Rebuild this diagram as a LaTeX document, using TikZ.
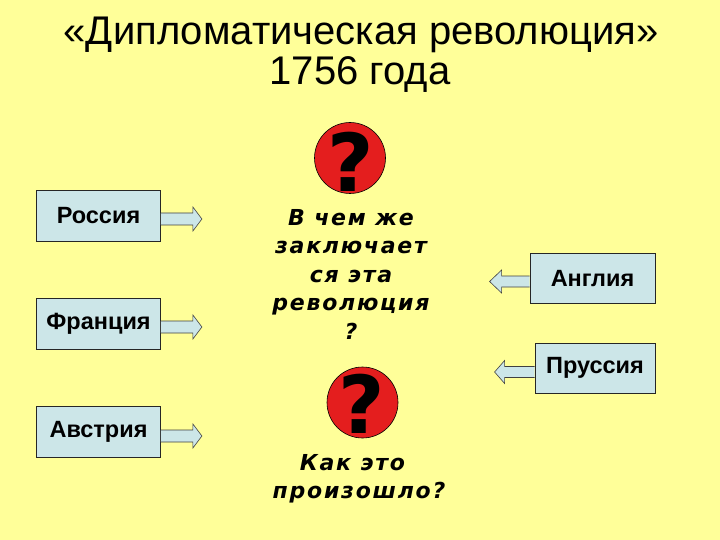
\documentclass[tikz,border=0pt]{standalone}
\usepackage{fontspec}
\setmainfont{Liberation Sans}
\newfontfamily\qfont[LetterSpace=8]{DejaVu Sans}
\newfontfamily\qmfont{DejaVu Sans}
\usetikzlibrary{calc}
\definecolor{bg}{RGB}{255,255,153}
\definecolor{boxfill}{RGB}{204,230,232}
\definecolor{qred}{RGB}{228,30,30}
\tikzset{
  x=1pt,y=-1pt,
  country/.style={draw=black!85,line width=0.8pt,fill=boxfill,inner sep=0pt,
    font=\fontsize{23.5}{26}\selectfont\bfseries},
  blockarrow/.style={draw=black!75,line width=0.6pt,fill=boxfill,line join=miter},
  qcircle/.style={circle,draw=black,line width=0.6pt,fill=qred,minimum size=71pt,inner sep=0pt},
  qmark/.style={font=\qmfont\bfseries\fontsize{80}{80}\selectfont,inner sep=0pt},
  qtext/.style={align=center,font=\qfont\bfseries\itshape\fontsize{22}{28.5}\selectfont,inner sep=0pt},
  titletext/.style={font=\fontsize{40}{42}\selectfont,inner sep=0pt,anchor=base}
}
\begin{document}
\begin{tikzpicture}
\useasboundingbox (0,0) rectangle (720,540);
\fill[bg] (0,0) rectangle (720,540);

% title
\node[titletext] (t1) at (361,45) {«Дипломатическая революция»};
\node[titletext] (t2) at (360,85) {1756 года};

% left boxes
\node[country,minimum width=124pt,minimum height=51pt] (ru) at (98.5,216) {Россия};
\node[country,minimum width=124pt,minimum height=51pt] (fr) at (98.5,323.5) {Франция};
\node[country,minimum width=124pt,minimum height=51pt] (au) at (98.5,432) {Австрия};
% right boxes
\node[country,minimum width=125pt,minimum height=50pt] (en) at (592.5,278.5) {Англия};
\node[country,minimum width=120pt,minimum height=50pt] (pr) at (595,368) {Пруссия};

% right-pointing arrows
\foreach \b/\dy in {ru/3,fr/3.5,au/4}{
  \coordinate (\b s) at ($(\b.east)+(0,\dy)$);
  \draw[blockarrow] ($(\b s)+(0,-6)$) -- ++(32,0) -- ++(0,-6) -- ++(9,12) -- ++(-9,12) -- ++(0,-6) -- ++(-32,0);
}
% left-pointing arrows
\coordinate (ens) at ($(en.west)+(0,3)$);
\draw[blockarrow] ($(ens)+(0,-5.5)$) -- ++(-28,0) -- ++(0,-6) -- ++(-12,11.5) -- ++(12,11.5) -- ++(0,-6) -- ++(28,0);
\coordinate (prs) at ($(pr.west)+(0,4)$);
\draw[blockarrow] ($(prs)+(0,-5.5)$) -- ++(-30,0) -- ++(0,-6) -- ++(-10,11.5) -- ++(10,11.5) -- ++(0,-6) -- ++(30,0);

% question circles
\node[qcircle] (c1) at (350,158) {};
\node[qmark] (q1) at (351,162) {?};
\node[qcircle] (c2) at (362.5,402.5) {};
\node[qmark] (q2) at (361.5,404) {?};

% texts
\node[qtext] (txt1) at (351,274) {В чем же\\заключает\\ся эта\\революция\\?};
\node[qtext] (txt2) at (359,479) {Как это\hspace*{0.6em}\\произошло?};
\end{tikzpicture}
\end{document}
